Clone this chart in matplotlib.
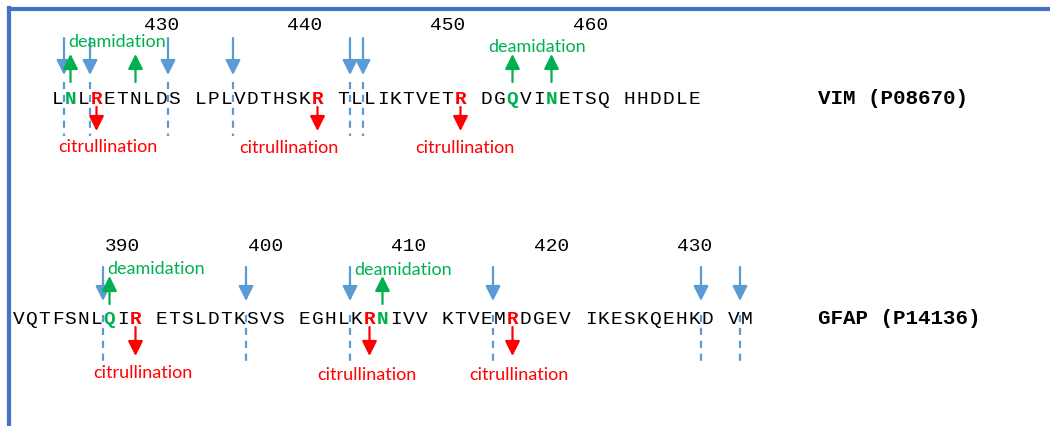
import matplotlib.pyplot as plt
from matplotlib.lines import Line2D

# sequences and modification sites (residue numbers)
vim_seq = "LNLRETNLDS LPLVDTHSKR TLLIKTVETR DGQVINETSQ HHDDLE"
vim_start = 421
vim_name = "VIM (P08670)"
vim_ticks = [430, 440, 450, 460]
vim_cleave = [421, 423, 429, 433, 441, 442]   # cut after these residues
vim_citr = [424, 440, 450]
vim_deam = [422, 427, 453, 456]
vim_green = [422, 453, 456]                    # residues shown in green

gfap_seq = "VQTFSNLQIR ETSLDTKSVS EGHLKRNIVV KTVEMRDGEV IKESKQEHKD VM"
gfap_start = 381
gfap_name = "GFAP (P14136)"
gfap_ticks = [390, 400, 410, 420, 430]
gfap_cleave = [387, 397, 404, 414, 429, 431]
gfap_citr = [390, 406, 416]
gfap_deam = [388, 407]
gfap_green = [388, 407]

BLUE = '#5B9BD5'
GREEN = '#00B050'
RED = '#FF0000'
MONO = 'Liberation Mono'
SANS = 'Lato'

# layout: column width 13 px starting at x=12 px, y in pixels
X0, CW = 12, 13
W, H = 1050, 427

vim_lay = dict(offset=3, base=103.5, tick=30, blue=(39, 76), dash=(83, 137),
               green=(83, 55), red=(108, 132),
               deam_lab=[(8.1, 47), (40.4, 52)],
               citr_lab=[(7.4, 152), (21.3, 153), (34.8, 153)])
gfap_lay = dict(offset=0, base=324, tick=251, blue=(268, 302), dash=(316, 362),
                green=(305, 277), red=(328, 357),
                deam_lab=[(11.1, 274), (30.1, 275)],
                citr_lab=[(10.1, 378), (27.3, 380), (39.0, 380)])


def columns(seq, start, offset):
    pos = {}
    n = start
    for i, ch in enumerate(seq):
        if ch != ' ':
            pos[n] = offset + i
            n += 1
    return pos


def arrow(ax, x, y0, y1, color):
    ax.annotate('', xy=(x, y1), xytext=(x, y0),
                arrowprops=dict(arrowstyle='-|>,head_width=0.45,head_length=0.9',
                                color=color, lw=1.6, shrinkA=0, shrinkB=0))


def draw_row(ax, seq, start, name, ticks, cleave, citr, deam, green, lay):
    col = columns(seq, start, lay['offset'])
    for n, c in col.items():
        ch = seq[c - lay['offset']]
        if n in citr:
            color, w = RED, 'bold'
        elif n in green:
            color, w = GREEN, 'bold'
        else:
            color, w = 'black', 'normal'
        ax.text(c + 0.5, lay['base'], ch, family=MONO, fontsize=14, color=color,
                weight=w, ha='center', va='baseline')
    for t in ticks:
        ax.text(col[t] + 0.85, lay['tick'], str(t), family=MONO, fontsize=14,
                ha='right', va='baseline')
    ax.text(62, lay['base'], name, family=MONO, fontsize=15, weight='bold',
            ha='left', va='baseline')
    for n in cleave:
        x = col[n] + 1
        arrow(ax, x, lay['blue'][0], lay['blue'][1], BLUE)
        ax.plot([x, x], lay['dash'], color=BLUE, lw=1.6, ls=(0, (3.2, 2.6)))
    for n in citr:
        arrow(ax, col[n] + 0.5, lay['red'][0], lay['red'][1], RED)
    for n in deam:
        arrow(ax, col[n] + 0.5, lay['green'][0], lay['green'][1], GREEN)
    for x, y in lay['deam_lab']:
        ax.text(x, y, 'deamidation', family=SANS, fontsize=13, color=GREEN,
                ha='center', va='baseline')
    for x, y in lay['citr_lab']:
        ax.text(x, y, 'citrullination', family=SANS, fontsize=13, color=RED,
                ha='center', va='baseline')


fig = plt.figure(figsize=(10.5, 4.27), dpi=100)
ax = fig.add_axes([0, 0, 1, 1])
ax.set_xlim(-X0 / CW, (W - X0) / CW)
ax.set_ylim(H, 0)
ax.axis('off')

draw_row(ax, vim_seq, vim_start, vim_name, vim_ticks, vim_cleave, vim_citr,
         vim_deam, vim_green, vim_lay)
draw_row(ax, gfap_seq, gfap_start, gfap_name, gfap_ticks, gfap_cleave, gfap_citr,
         gfap_deam, gfap_green, gfap_lay)

# frame (left and top edges)
fig.add_artist(Line2D([9 / W, 9 / W], [0, 1 - 9 / H], color='#4472C4', lw=3))
fig.add_artist(Line2D([9 / W, 1], [1 - 9.5 / H, 1 - 9.5 / H], color='#4472C4', lw=3))

fig.savefig('out.png', dpi=100)
